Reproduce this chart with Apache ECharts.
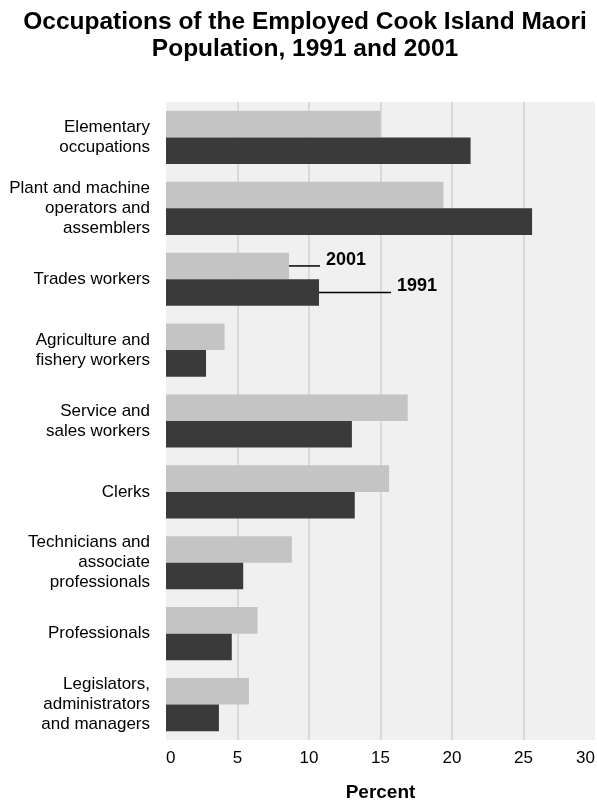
<!DOCTYPE html>
<html>
<head>
<meta charset="utf-8">
<script src="https://cdn.jsdelivr.net/npm/echarts@6/dist/echarts.min.js"></script>
<style>
  html, body { margin: 0; padding: 0; background: #fff; }
  #chart { width: 597px; height: 802px; }
</style>
</head>
<body>
<div id="chart"></div>
<script>
// occupations, top to bottom
var occupations = [
  'Elementary\noccupations',
  'Plant and machine\noperators and\nassemblers',
  'Trades workers',
  'Agriculture and\nfishery workers',
  'Service and\nsales workers',
  'Clerks',
  'Technicians and\nassociate\nprofessionals',
  'Professionals',
  'Legislators,\nadministrators\nand managers'
];
var values2001 = [15.0, 19.4, 8.6, 4.1, 16.9, 15.6, 8.8, 6.4, 5.8];
var values1991 = [21.3, 25.6, 10.7, 2.8, 13.0, 13.2, 5.4, 4.6, 3.7];
var xTicks = [0, 5, 10, 15, 20, 25, 30];
var labelRow = 2; // row where the series are named

var sans = '"Liberation Sans", Arial, sans-serif';

function withTag(values, tag, lineLen) {
  return values.map(function (v, i) {
    if (i !== labelRow) return v;
    return {
      value: v,
      label: {
        show: true,
        position: 'right',
        distance: 0,
        formatter: '{l|}{t|' + tag + '}',
        rich: {
          l: { width: lineLen, height: 1.5, backgroundColor: '#000' },
          t: { fontFamily: sans, fontWeight: 'bold', fontSize: 18, color: '#000',
               padding: [0, 0, 12, 6] }
        }
      }
    };
  });
}

// no grid line at 0 and 30
var gridColors = xTicks.map(function (t, i) {
  return (i === 0 || i === xTicks.length - 1) ? 'rgba(0,0,0,0)' : '#d2d2d2';
});

var chart = echarts.init(document.getElementById('chart'));
chart.setOption({
  animation: false,
  title: {
    text: 'Occupations of the Employed Cook Island Maori\nPopulation, 1991 and 2001',
    left: 300,
    top: 4,
    textAlign: 'center',
    textStyle: { fontFamily: sans, fontWeight: 'bold', fontSize: 24.5, lineHeight: 27, color: '#000' }
  },
  grid: {
    left: 166, right: 2, top: 102, bottom: 62,
    outerBoundsMode: 'none',
    containLabel: false,
    show: true, backgroundColor: '#f0f0f0', borderWidth: 0
  },
  xAxis: {
    type: 'value',
    min: xTicks[0], max: xTicks[xTicks.length - 1], interval: 5,
    name: 'Percent',
    nameLocation: 'middle',
    nameGap: 43,
    nameTextStyle: { fontFamily: sans, fontWeight: 'bold', fontSize: 19, color: '#000' },
    axisLine: { show: false },
    axisTick: { show: false },
    axisLabel: { fontFamily: sans, fontSize: 17, color: '#000', margin: 10,
                 alignMinLabel: 'left', alignMaxLabel: 'right' },
    splitLine: { show: true, lineStyle: { color: gridColors, width: 1.5 } }
  },
  yAxis: {
    type: 'category',
    inverse: true,
    data: occupations,
    axisLine: { show: false },
    axisTick: { show: false },
    axisLabel: { fontFamily: sans, fontSize: 17, lineHeight: 20, color: '#000', margin: 16 }
  },
  series: [
    {
      name: '2001', type: 'bar',
      data: withTag(values2001, '2001', 31),
      itemStyle: { color: '#c4c4c4' },
      barGap: '0%', barCategoryGap: '25%'
    },
    {
      name: '1991', type: 'bar',
      data: withTag(values1991, '1991', 72),
      itemStyle: { color: '#3a3a3a' },
      barGap: '0%', barCategoryGap: '25%'
    }
  ]
});
</script>
</body>
</html>
